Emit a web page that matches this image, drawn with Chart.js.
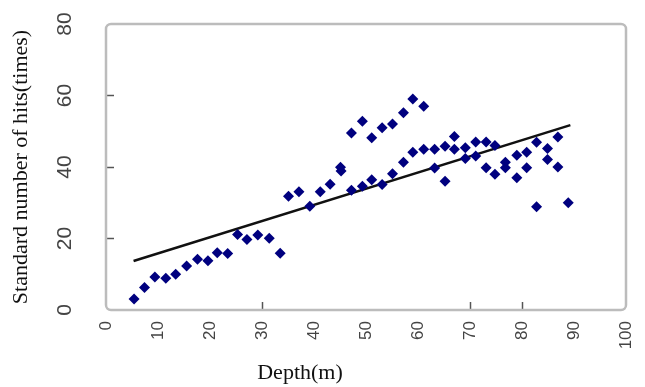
<!DOCTYPE html>
<html>
<head>
<meta charset="utf-8">
<script src="https://cdn.jsdelivr.net/npm/chart.js@4"></script>
<style>
  body { margin: 0; background: #fff; }
  #wrap { width: 645px; height: 387px; }
</style>
</head>
<body>
<div id="wrap"><canvas id="chart" width="645" height="387"></canvas></div>
<script>
//Depth of each test (m)
const depth = [
  5.4, 7.4, 9.4, 11.5, 13.4, 15.5, 17.6, 19.6, 21.4, 23.4,
  25.3, 27.1, 29.2, 31.4, 33.5, 35.1, 37.1, 39.2, 41.2, 43.1,
  45.1, 45.2, 47.2, 47.2, 49.3, 49.3, 51.1, 51.1, 53.1, 53.1,
  55.1, 55.1, 57.2, 57.2, 59.0, 59.0, 61.1, 61.1, 63.2, 63.2,
  65.2, 65.2, 67.0, 67.0, 69.1, 69.1, 71.1, 71.1, 73.1, 73.1,
  74.8, 74.8, 76.8, 76.8, 79.0, 79.0, 80.9, 80.9, 82.8, 82.8,
  84.9, 84.9, 86.9, 86.9, 88.9,
];
//Standard number of hits (times)
const hits = [
  3.1, 6.3, 9.2, 8.9, 10.0, 12.3, 14.2, 13.8, 16.0, 15.8,
  21.1, 19.7, 21.0, 20.1, 15.9, 31.8, 33.1, 29.0, 33.1, 35.2,
  39.9, 38.9, 49.5, 33.5, 52.8, 34.6, 48.2, 36.4, 51.0, 35.1,
  52.0, 38.1, 55.2, 41.3, 59.0, 44.1, 57.0, 45.0, 45.0, 39.7,
  45.8, 36.0, 48.5, 45.0, 45.4, 42.4, 47.0, 43.1, 47.0, 39.8,
  46.0, 38.0, 41.3, 39.8, 43.3, 37.0, 44.1, 39.8, 46.9, 28.9,
  45.2, 42.1, 48.4, 40.0, 30.0,
];
//Trend line end points
const trendDepth = [5.3, 89.3];
const trendHits = [13.7, 51.7];
//Only these ticks have a visible tick mark
const xMarked = [30, 70, 80];
const yMarked = [20, 40, 60];

const points = depth.map((d, i) => ({ x: d, y: hits[i] }));
const trend = trendDepth.map((d, i) => ({ x: d, y: trendHits[i] }));

//Rounded plot frame and x title
const framePlugin = {
  id: "frame",
  beforeDatasetsDraw(chart) {
    const { ctx, chartArea: a } = chart;
    ctx.save();
    ctx.strokeStyle = "#bcbcbc";
    ctx.lineWidth = 2.5;
    ctx.beginPath();
    ctx.roundRect(a.left, a.top, a.right - a.left, a.bottom - a.top, 5);
    ctx.stroke();
    ctx.restore();
  },
  afterDraw(chart) {
    const { ctx } = chart;
    ctx.save();
    ctx.font = '22px "Liberation Serif"';
    ctx.fillStyle = "#111";
    ctx.textAlign = "center";
    ctx.textBaseline = "middle";
    ctx.fillText("Depth(m)", 300, 373);
    ctx.restore();
  },
};

new Chart(document.getElementById("chart"), {
  type: "scatter",
  data: {
    datasets: [
      {
        label: "Hits",
        data: points,
        pointStyle: "rectRot",
        pointRadius: 5.5,
        backgroundColor: "#00007f",
        borderColor: "#00007f",
        borderWidth: 0,
      },
      {
        label: "Trend",
        type: "line",
        data: trend,
        showLine: true,
        borderColor: "#111",
        borderWidth: 2.5,
        pointRadius: 0,
        fill: false,
      },
    ],
  },
  options: {
    responsive: false,
    animation: false,
    layout: { padding: { top: 24, right: 19, left: 0, bottom: 0 } },
    plugins: {
      legend: { display: false },
      tooltip: { enabled: false },
    },
    scales: {
      x: {
        type: "linear",
        min: 0,
        max: 100,
        border: { display: false },
        grid: {
          drawOnChartArea: false,
          tickLength: -8,
          tickWidth: 1.5,
          tickColor: (c) => (xMarked.includes(c.tick.value) ? "#555" : "transparent"),
        },
        ticks: {
          stepSize: 10,
          autoSkip: false,
          minRotation: 90,
          maxRotation: 90,
          padding: 19,
          color: "#444",
          font: { family: "Liberation Sans", size: 17 },
        },
        afterFit(s) {
          s.height = 77;
          s.paddingLeft = 0;
          s.paddingRight = 0;
        },
      },
      y: {
        min: 0,
        max: 80,
        border: { display: false },
        grid: {
          drawOnChartArea: false,
          tickLength: -8,
          tickWidth: 1.5,
          tickColor: (c) => (yMarked.includes(c.tick.value) ? "#555" : "transparent"),
        },
        ticks: {
          stepSize: 20,
          minRotation: 90,
          maxRotation: 90,
          crossAlign: "center",
          padding: 37,
          color: "#444",
          font: { family: "Liberation Sans", size: 21 },
        },
        title: {
          display: true,
          text: "Standard number of hits(times)",
          color: "#111",
          font: { family: "Liberation Serif", size: 22 },
          padding: { top: 8, bottom: 0 },
        },
        afterFit(s) {
          s.width = 106;
          s.paddingTop = 0;
          s.paddingBottom = 0;
        },
      },
    },
  },
  plugins: [framePlugin],
});
</script>
</body>
</html>
